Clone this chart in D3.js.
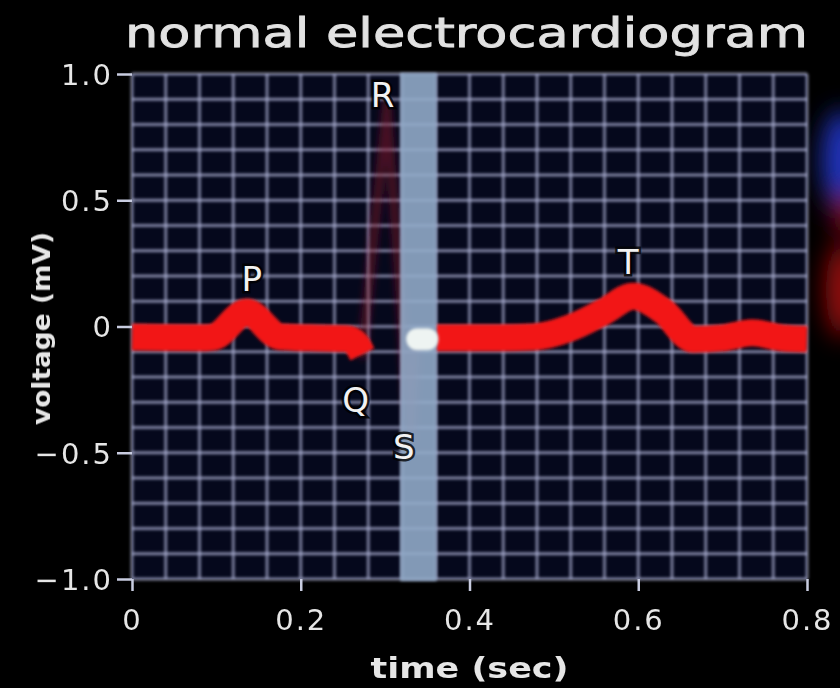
<!DOCTYPE html>
<html>
<head>
<meta charset="utf-8">
<script src="https://cdn.jsdelivr.net/npm/d3@7"></script>
<style>
  html, body { margin: 0; padding: 0; background: #000; }
  svg { display: block; }
</style>
</head>
<body>
<svg id="chart" width="840" height="688"></svg>
<script>
// ---------- data ----------
const titleText = "normal electrocardiogram";
const xAxisTitle = "time (sec)";
const yAxisTitle = "voltage (mV)";

const timeTicks = [0, 0.2, 0.4, 0.6, 0.8];
const timeTickLabels = ["0", "0.2", "0.4", "0.6", "0.8"];
const voltTicks = [-1, -0.5, 0, 0.5, 1];
const voltTickLabels = ["\u22121.0", "\u22120.5", "0", "0.5", "1.0"];

// P wave + PR segment up to Q
const traceATime = [0, 0.04, 0.08, 0.096, 0.136, 0.175, 0.21, 0.255, 0.266, 0.273];
const traceAVolt = [-0.042, -0.044, -0.045, -0.042, 0.057, -0.04, -0.045, -0.048, -0.07, -0.11];

// faint QRS sweep (R up-stroke, S)
const qrsTime = [0.273, 0.302, 0.33, 0.336];
const qrsVolt = [-0.11, 0.88, -0.45, -0.05];

// pen cursor (white) just after S
const cursorTime = [0.338, 0.35];
const cursorVolt = [-0.05, -0.05];

// ST segment, T wave, baseline
const traceBTime = [0.36, 0.42, 0.475, 0.52, 0.56, 0.594, 0.63, 0.665, 0.70, 0.735, 0.77, 0.80];
const traceBVolt = [-0.045, -0.045, -0.042, -0.005, 0.06, 0.12, 0.06, -0.05, -0.045, -0.025, -0.045, -0.05];

// sweep (eraser) band
const bandTime = [0.318, 0.361];

// wave annotations
const waveLabels = ["P", "Q", "R", "S", "T"];
const waveLabelTime = [0.142, 0.265, 0.297, 0.322, 0.588];
const waveLabelVolt = [0.19, -0.29, 0.917, -0.477, 0.255];

// grid steps
const gridTimeStep = 0.04;
const gridVoltStep = 0.1;

// ---------- drawing ----------
const svg = d3.select("#chart");
const x = d3.scaleLinear().domain([0, 0.8]).range([132, 807]);
const y = d3.scaleLinear().domain([-1, 1]).range([579, 74]);

const defs = svg.append("defs");
function blurFilter(id, sd) {
  defs.append("filter").attr("id", id)
    .attr("filterUnits", "userSpaceOnUse")
    .attr("x", -2000).attr("y", -2000).attr("width", 4000).attr("height", 4000)
    .append("feGaussianBlur").attr("stdDeviation", sd);
}
blurFilter("soft", 1.4);
blurFilter("softer", 3.5);
blurFilter("haze", 12);
blurFilter("txt", 0.6);

svg.append("rect").attr("width", 840).attr("height", 688).attr("fill", "#000");

// decorative blurred glows at right edge
const glow = svg.append("g").attr("filter", "url(#haze)");
glow.append("ellipse").attr("cx", 842).attr("cy", 160).attr("rx", 20).attr("ry", 50).attr("fill", "#2236c8").attr("opacity", 0.95);
glow.append("ellipse").attr("cx", 846).attr("cy", 215).attr("rx", 12).attr("ry", 22).attr("fill", "#b01020").attr("opacity", 0.8);
glow.append("ellipse").attr("cx", 842).attr("cy", 290).attr("rx", 16).attr("ry", 48).attr("fill", "#b00c10").attr("opacity", 0.9);

// plot background
svg.append("rect")
  .attr("x", x(0)).attr("y", y(1))
  .attr("width", x(0.8) - x(0)).attr("height", y(-1) - y(1))
  .attr("fill", "#05081c");

// grid
const gridG = svg.append("g").attr("filter", "url(#soft)");
const vLines = d3.range(0, 0.8 + 1e-9, gridTimeStep);
const hLines = d3.range(-1, 1 + 1e-9, gridVoltStep);
gridG.selectAll(".v").data(vLines).join("line")
  .attr("x1", d => x(d)).attr("x2", d => x(d))
  .attr("y1", y(1)).attr("y2", y(-1))
  .attr("stroke", "#b0b5d8").attr("stroke-opacity", 0.85).attr("stroke-width", 2.3);
gridG.selectAll(".h").data(hLines).join("line")
  .attr("y1", d => y(d)).attr("y2", d => y(d))
  .attr("x1", x(0)).attr("x2", x(0.8))
  .attr("stroke", "#b0b5d8").attr("stroke-opacity", 0.85).attr("stroke-width", 2.3);

const line = d3.line().x(d => x(d[0])).y(d => y(d[1])).curve(d3.curveMonotoneX);
const zip = (a, b) => a.map((v, i) => [v, b[i]]);

// faint QRS
svg.append("path")
  .attr("d", d3.line().x(d => x(d[0])).y(d => y(d[1]))(zip(qrsTime, qrsVolt)))
  .attr("fill", "none").attr("stroke", "#8a1428").attr("stroke-opacity", 0.5)
  .attr("stroke-width", 9).attr("stroke-linejoin", "round").attr("stroke-linecap", "round")
  .attr("filter", "url(#softer)");

// red traces
const traceG = svg.append("g").attr("filter", "url(#soft)");
[[traceATime, traceAVolt], [traceBTime, traceBVolt]].forEach(([t, v]) => {
  traceG.append("path")
    .attr("d", line(zip(t, v)))
    .attr("fill", "none").attr("stroke", "#f21414")
    .attr("stroke-width", 27).attr("stroke-linejoin", "round").attr("stroke-linecap", "butt");
});

// sweep band
svg.append("rect")
  .attr("x", x(bandTime[0])).attr("y", y(1) - 1)
  .attr("width", x(bandTime[1]) - x(bandTime[0])).attr("height", y(-1) - y(1) + 3)
  .attr("fill", "#90a9c6").attr("fill-opacity", 0.9)
  .attr("filter", "url(#soft)");

// cursor
svg.append("path")
  .attr("d", line(zip(cursorTime, cursorVolt)))
  .attr("fill", "none").attr("stroke", "#eef4f2")
  .attr("stroke-width", 22).attr("stroke-linecap", "round")
  .attr("filter", "url(#soft)");

// axes
const textFill = "#e6e6e6";
const yAxis = svg.append("g")
  .attr("transform", `translate(${x(0)},0)`)
  .call(d3.axisLeft(y).tickValues(voltTicks).tickFormat((d, i) => voltTickLabels[i]).tickSize(15).tickPadding(4).tickSizeOuter(0));
const xAxis = svg.append("g")
  .attr("transform", `translate(0,${y(-1)})`)
  .call(d3.axisBottom(x).tickValues(timeTicks).tickFormat((d, i) => timeTickLabels[i]).tickSize(12).tickPadding(18).tickSizeOuter(0));
[yAxis, xAxis].forEach(g => {
  g.select(".domain").remove();
  g.selectAll(".tick line").attr("stroke", "#c8cce0").attr("stroke-width", 2.5);
  g.selectAll(".tick text")
    .attr("fill", textFill)
    .style("font-family", "'DejaVu Sans', sans-serif")
    .style("font-size", "29px")
    .style("letter-spacing", "2px")
    .attr("filter", "url(#txt)");
});
yAxis.selectAll(".tick text").attr("dy", "0.36em");
xAxis.selectAll(".tick text").attr("dy", "0.71em");

// title
svg.append("text")
  .attr("x", 125).attr("y", 47)
  .attr("textLength", 683).attr("lengthAdjust", "spacingAndGlyphs")
  .attr("fill", "#e2e2e2")
  .attr("stroke", "#e2e2e2").attr("stroke-width", 0.8)
  .style("font-family", "'DejaVu Sans', sans-serif")
  .style("font-size", "40px")
  .attr("filter", "url(#txt)")
  .text(titleText);

// axis titles
svg.append("text")
  .attr("x", (x(0) + x(0.8)) / 2).attr("y", 678)
  .attr("text-anchor", "middle")
  .attr("textLength", 198).attr("lengthAdjust", "spacingAndGlyphs")
  .attr("fill", textFill)
  .style("font-family", "'DejaVu Sans', sans-serif")
  .style("font-size", "28px").style("font-weight", "bold")
  .attr("filter", "url(#txt)")
  .text(xAxisTitle);

svg.append("text")
  .attr("transform", `translate(50,${y(0) + 2}) rotate(-90)`)
  .attr("text-anchor", "middle")
  .attr("textLength", 193).attr("lengthAdjust", "spacingAndGlyphs")
  .attr("fill", textFill)
  .style("font-family", "'DejaVu Sans', sans-serif")
  .style("font-size", "25px").style("font-weight", "bold")
  .attr("filter", "url(#txt)")
  .text(yAxisTitle);

// wave labels
svg.append("g").selectAll("text").data(waveLabels).join("text")
  .attr("x", (d, i) => x(waveLabelTime[i]))
  .attr("y", (d, i) => y(waveLabelVolt[i]))
  .attr("text-anchor", "middle").attr("dy", "0.36em")
  .attr("fill", "#f2f2f2")
  .attr("stroke", "#000").attr("stroke-width", 5).attr("stroke-opacity", 0.8)
  .attr("paint-order", "stroke")
  .style("font-family", "'DejaVu Sans', sans-serif")
  .style("font-size", "34px")
  .text(d => d);
</script>
</body>
</html>
